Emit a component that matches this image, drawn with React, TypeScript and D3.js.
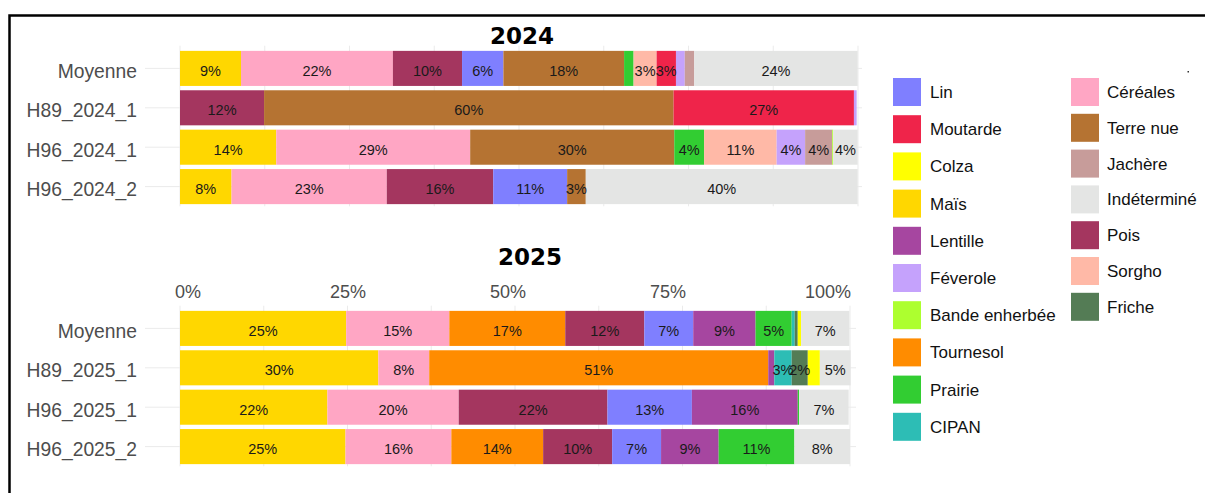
import React from "react";
import * as d3 from "d3";

// ---------- DATA ----------
const rows2024 = ["Moyenne", "H89_2024_1", "H96_2024_1", "H96_2024_2"];
const keys2024 = ["Maïs", "Céréales", "Pois", "Lin", "Terre nue", "Prairie", "Sorgho", "Moutarde", "Féverole", "Jachère", "Bande enherbée", "Indéterminé"];
const moyenne2024 = [9.0, 22.4, 10.2, 6.1, 17.8, 1.4, 3.4, 2.85, 1.3, 1.4, 0, 24.1];
const h89_2024_1 = [0, 0, 12.4, 0, 60.4, 0, 0, 26.6, 0.4, 0, 0, 0];
const h96_2024_1 = [14.2, 28.6, 0, 0, 30.1, 4.4, 10.7, 0, 4.2, 4.0, 0.15, 3.6];
const h96_2024_2 = [7.6, 22.9, 15.7, 10.9, 2.75, 0, 0, 0, 0, 0, 0, 40.1];

const rows2025 = ["Moyenne", "H89_2025_1", "H96_2025_1", "H96_2025_2"];
const keys2025 = ["Maïs", "Céréales", "Tournesol", "Pois", "Lin", "Lentille", "Prairie", "CIPAN", "Friche", "Colza", "Indéterminé"];
const moyenne2025 = [24.8, 15.4, 17.3, 11.8, 7.3, 9.3, 5.4, 0.45, 0.45, 0.5, 7.2];
const h89_2025_1 = [29.6, 7.6, 50.6, 0, 0, 0.9, 0, 2.6, 2.4, 1.8, 4.6];
const h96_2025_1 = [22.0, 19.6, 0, 22.2, 12.6, 15.8, 0.2, 0, 0, 0, 7.4];
const h96_2025_2 = [24.7, 15.8, 13.7, 10.3, 7.3, 8.6, 11.3, 0, 0, 0, 8.3];

const xTicks = [0, 25, 50, 75, 100];
const xTickLabels = ["0%", "25%", "50%", "75%", "100%"];
const xGrid = [0, 12.5, 25, 37.5, 50, 62.5, 75, 87.5, 100];

const legendCol1 = ["Lin", "Moutarde", "Colza", "Maïs", "Lentille", "Féverole", "Bande enherbée", "Tournesol", "Prairie", "CIPAN"];
const legendCol2 = ["Céréales", "Terre nue", "Jachère", "Indéterminé", "Pois", "Sorgho", "Friche"];

const colors: Record<string, string> = {
  "Lin": "#7F7FFF",
  "Moutarde": "#EF244A",
  "Colza": "#FFFF00",
  "Maïs": "#FFD700",
  "Lentille": "#A646A0",
  "Féverole": "#C5A2FC",
  "Bande enherbée": "#ADFF2F",
  "Tournesol": "#FF8C00",
  "Prairie": "#32CD32",
  "CIPAN": "#2DBDB5",
  "Céréales": "#FFA6C4",
  "Terre nue": "#B57332",
  "Jachère": "#C79C9A",
  "Indéterminé": "#E4E5E4",
  "Pois": "#A4365F",
  "Sorgho": "#FFB9A7",
  "Friche": "#547C55",
};

const FONT = "'Liberation Sans', Arial, sans-serif";

type PanelProps = {
  title: string;
  rows: string[];
  keys: string[];
  values: number[][];
  xRange: [number, number];
  yRange: [number, number];
  gridRight: number;
  titleX: number;
  titleY: number;
  showAxis: boolean;
};

function Panel({ title, rows, keys, values, xRange, yRange, gridRight, titleX, titleY, showAxis }: PanelProps) {
  const data = rows.map((r, i) => {
    const o: any = { row: r };
    keys.forEach((k, j) => (o[k] = values[i][j]));
    return o;
  });
  const series = d3.stack<any>().keys(keys)(data);
  const x = d3.scaleLinear().domain([0, 100]).range(xRange);
  const y = d3.scaleBand<string>().domain(rows).range(yRange).paddingInner(0.11).paddingOuter(0.055);
  const tickX = d3.scaleLinear().domain([0, 100]).range([188, 828]);
  const panelTop = yRange[0] - 3;
  const panelBottom = yRange[1];

  return (
    <g>
      {xGrid.map((g) => (
        <line key={"vg" + g} x1={x(g)} x2={x(g)} y1={panelTop} y2={panelBottom} stroke="#ebebeb" strokeWidth={1} />
      ))}
      {rows.map((r) => (
        <line key={"hg" + r} x1={145} x2={gridRight} y1={(y(r) as number) + y.bandwidth() / 2} y2={(y(r) as number) + y.bandwidth() / 2} stroke="#ebebeb" strokeWidth={1} />
      ))}
      {series.map((s) => (
        <g key={s.key} fill={colors[s.key]}>
          {s.map((d, i) => {
            const w = x(d[1]) - x(d[0]);
            if (w <= 0) return null;
            return <rect key={i} x={x(d[0])} y={y(rows[i]) as number} width={w} height={y.bandwidth()} />;
          })}
        </g>
      ))}
      {series.map((s) => (
        <g key={"l" + s.key}>
          {s.map((d, i) => {
            const v = d[1] - d[0];
            if (v < 2) return null;
            return (
              <text key={i} x={(x(d[0]) + x(d[1])) / 2} y={(y(rows[i]) as number) + y.bandwidth() / 2 + 7.5}
                textAnchor="middle" fontSize={14.5} fontFamily={FONT} fill="#1a1a1a">
                {Math.round(v) + "%"}
              </text>
            );
          })}
        </g>
      ))}
      {rows.map((r) => (
        <text key={"y" + r} x={137} y={(y(r) as number) + y.bandwidth() / 2 + 9.5} textAnchor="end"
          fontSize={19.3} fontFamily={FONT} fill="#4d4d4d">{r}</text>
      ))}
      {showAxis && xTicks.map((t, i) => (
        <text key={"xt" + t} x={tickX(t)} y={298} textAnchor="middle" fontSize={18} fontFamily={FONT} fill="#4d4d4d">
          {xTickLabels[i]}
        </text>
      ))}
      <text x={titleX} y={titleY} textAnchor="middle" fontSize={23} fontWeight="bold" fontFamily="'DejaVu Sans', sans-serif" fill="#000">
        {title}
      </text>
    </g>
  );
}

export default function App() {
  const W = 1205, H = 493;
  return (
    <div style={{ position: "absolute", left: 0, top: 0 }}>
      <svg width={W} height={H} style={{ display: "block", background: "#fff" }}>
        <rect x={0} y={0} width={W} height={H} fill="#fff" />
        <Panel title="2024" rows={rows2024} keys={keys2024}
          values={[moyenne2024, h89_2024_1, h96_2024_1, h96_2024_2]}
          xRange={[180, 858]} yRange={[48.7, 206.3]} gridRight={862} titleX={522} titleY={44} showAxis={false} />
        <Panel title="2025" rows={rows2025} keys={keys2025}
          values={[moyenne2025, h89_2025_1, h96_2025_1, h96_2025_2]}
          xRange={[180, 850]} yRange={[308.7, 466.3]} gridRight={856} titleX={530} titleY={265} showAxis={true} />
        {legendCol1.map((k, i) => (
          <g key={"lg1" + k} transform={`translate(893,${78 + i * 37.2})`}>
            <rect width={28} height={28} fill={colors[k]} />
            <text x={37} y={20} fontSize={17} fontFamily={FONT} fill="#111">{k}</text>
          </g>
        ))}
        {legendCol2.map((k, i) => (
          <g key={"lg2" + k} transform={`translate(1071,${78 + i * 35.8})`}>
            <rect width={28} height={28} fill={colors[k]} />
            <text x={36} y={20} fontSize={17} fontFamily={FONT} fill="#111">{k}</text>
          </g>
        ))}
        <rect x={1187.5} y={71} width={1.5} height={1.5} fill="#333" />
        <path d={`M9.5,${H + 5} V15.5 H${W + 5}`} fill="none" stroke="#000" strokeWidth={2.5} />
      </svg>
    </div>
  );
}
